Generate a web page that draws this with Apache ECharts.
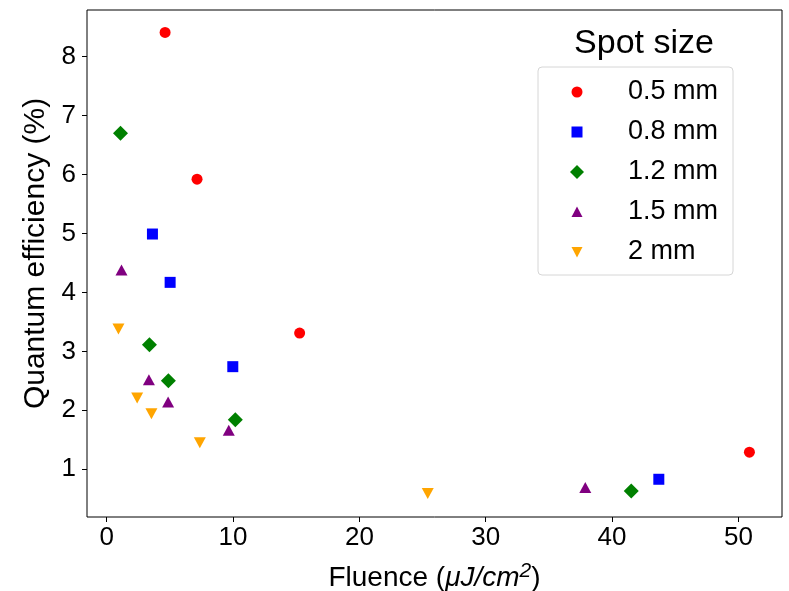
<!DOCTYPE html>
<html>
<head>
<meta charset="utf-8">
<script src="https://cdn.jsdelivr.net/npm/echarts@6/dist/echarts.min.js"></script>
<style>
html,body{margin:0;padding:0;background:#fff;}
#chart{width:789px;height:591px;}
</style>
</head>
<body>
<div id="chart"></div>
<script>
// ---- data ----
var seriesNames = ['0.5 mm', '0.8 mm', '1.2 mm', '1.5 mm', '2 mm'];
var fluence05 = [4.62, 7.15, 15.27, 50.87];
var qe05      = [8.41, 5.92, 3.31, 1.29];
var fluence08 = [3.62, 5.02, 9.98, 43.70];
var qe08      = [4.99, 4.17, 2.74, 0.83];
var fluence12 = [1.09, 3.38, 4.88, 10.18, 41.52];
var qe12      = [6.70, 3.11, 2.50, 1.84, 0.63];
var fluence15 = [1.17, 3.34, 4.86, 9.66, 37.88];
var qe15      = [4.38, 2.52, 2.14, 1.66, 0.69];
var fluence20 = [0.93, 2.41, 3.54, 7.37, 25.41];
var qe20      = [3.38, 2.21, 1.94, 1.45, 0.59];
var xTicks = [0, 10, 20, 30, 40, 50];
var yTicks = [1, 2, 3, 4, 5, 6, 7, 8];

function pairs(xs, ys) { return xs.map(function (x, i) { return [x, ys[i]]; }); }

var FONT = '"Liberation Sans", Arial, sans-serif';
var downTri = 'path://M0,0 L10,0 L5,9.2 Z';
var styles = [
  { color: '#ff0000', symbol: 'circle', size: 11, legendIcon: 'path://M0,0 M1.5,7 A5.5,5.5 0 1 1 12.5,7 A5.5,5.5 0 1 1 1.5,7 Z M14,14' },
  { color: '#0000ff', symbol: 'rect', size: 11, legendIcon: 'path://M0,0 M1.5,1.5 L12.5,1.5 L12.5,12.5 L1.5,12.5 Z M14,14' },
  { color: '#008000', symbol: 'diamond', size: 15, legendIcon: 'diamond' },
  { color: '#800080', symbol: 'triangle', size: [12, 11], legendIcon: 'path://M0,0 M7,1.5 L12.5,12 L1.5,12 Z M14,14' },
  { color: '#ffa500', symbol: downTri, size: [12, 11], legendIcon: 'path://M0,0 M1.5,2 L12.5,2 L7,12.5 Z M14,14' }
];
var datasets = [
  pairs(fluence05, qe05), pairs(fluence08, qe08), pairs(fluence12, qe12),
  pairs(fluence15, qe15), pairs(fluence20, qe20)
];

var chart = echarts.init(document.getElementById('chart'), null, { renderer: 'canvas' });
var option = {
  animation: false,
  backgroundColor: '#fff',
  textStyle: { fontFamily: FONT },
  title: {
    text: 'Spot size',
    left: 639, top: 22,
    textAlign: 'center',
    textStyle: { fontFamily: FONT, fontSize: 34, fontWeight: 'normal', color: '#000' }
  },
  legend: {
    orient: 'vertical',
    left: 538, top: 67,
    padding: [11, 15, 9, 32],
    itemGap: 12,
    itemWidth: 14, itemHeight: 14,
    backgroundColor: 'rgba(255,255,255,0.8)',
    borderColor: '#d6d6d6', borderWidth: 1, borderRadius: 4,
    textStyle: { fontFamily: FONT, fontSize: 27, color: '#000', padding: [0, 0, 0, 39], lineHeight: 28 },
    data: seriesNames.map(function (n, i) { return { name: n, icon: styles[i].legendIcon }; })
  },
  grid: {
    left: 87, right: 7, top: 10, bottom: 74,
    outerBoundsMode: 'none',
    containLabel: false,
    show: true, borderColor: '#000', borderWidth: 1, backgroundColor: 'transparent'
  },
  xAxis: {
    type: 'value',
    min: -1.56, max: 53.45,
    name: '',
    nameLocation: 'middle',
    nameGap: 44,
    nameTextStyle: {
      fontFamily: FONT, fontSize: 28, color: '#000',
      rich: {
        it: { fontFamily: FONT, fontSize: 28, fontStyle: 'italic', color: '#000' },
        sup: { fontFamily: FONT, fontSize: 21, fontStyle: 'italic', color: '#000', verticalAlign: 'top', padding: [0, 0, 14, 0] },
        n: { fontFamily: FONT, fontSize: 28, color: '#000' }
      }
    },
    splitLine: { show: false },
    axisLine: { show: false, onZero: false },
    axisTick: { show: true, inside: false, length: 5, lineStyle: { color: '#000', width: 1 }, customValues: xTicks },
    axisLabel: { customValues: xTicks, fontFamily: FONT, fontSize: 26, color: '#000', margin: 8 }
  },
  yAxis: {
    type: 'value',
    min: 0.19, max: 8.79,
    name: 'Quantum efficiency (%)',
    nameLocation: 'middle',
    nameGap: 30,
    nameRotate: 90,
    nameTextStyle: { fontFamily: FONT, fontSize: 30, color: '#000', padding: [0, 0, 0, 20] },
    splitLine: { show: false },
    axisLine: { show: false, onZero: false },
    axisTick: { show: true, inside: false, length: 5, lineStyle: { color: '#000', width: 1 }, customValues: yTicks },
    axisLabel: { customValues: yTicks, fontFamily: FONT, fontSize: 26, color: '#000', margin: 11 }
  },
  series: seriesNames.map(function (name, i) {
    return {
      name: name,
      type: 'scatter',
      symbol: styles[i].symbol,
      symbolSize: styles[i].size,
      itemStyle: { color: styles[i].color, opacity: 1 },
      data: datasets[i]
    };
  })
};
option.xAxis.name = '{n|Fluence (}{it|μJ/cm}{sup|2}{n|)}';
chart.setOption(option);
</script>
</body>
</html>
